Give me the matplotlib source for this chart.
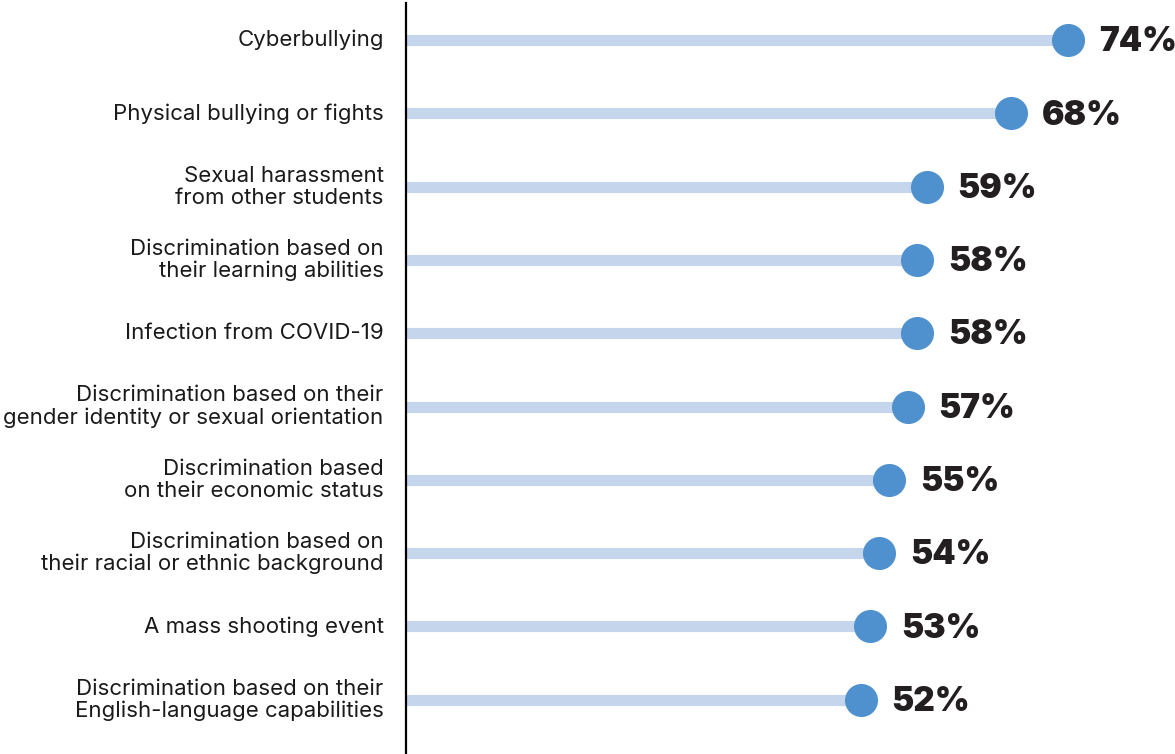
import matplotlib

matplotlib.use("Agg")
import matplotlib.pyplot as plt

categories = [
    "Cyberbullying",
    "Physical bullying or fights",
    "Sexual harassment\nfrom other students",
    "Discrimination based on\ntheir learning abilities",
    "Infection from COVID-19",
    "Discrimination based on their\ngender identity or sexual orientation",
    "Discrimination based\non their economic status",
    "Discrimination based on\ntheir racial or ethnic background",
    "A mass shooting event",
    "Discrimination based on their\nEnglish-language capabilities",
]
values = [74, 68, 59, 58, 58, 57, 55, 54, 53, 52]

STEM = "#c5d5ec"
DOT = "#4f90cf"
TEXT = "#1a1a1a"

W, H = 1175, 754
fig = plt.figure(figsize=(W / 100, H / 100), dpi=100)
ax = fig.add_axes([406 / W, 0, (W - 406) / W, (H - 3) / H])

x0, x1 = 3.7, 85.4
ax.set_xlim(x0, x1)
ax.set_ylim(9.74, -0.505)

ys = list(range(len(categories)))
ax.hlines(ys, x0, values, color=STEM, linewidth=8, zorder=1)
ax.scatter(values, ys, s=23.8 ** 2, color=DOT, zorder=3, linewidths=0)

for y, v, lab in zip(ys, values, categories):
    ax.text(v + 3.3, y + 0.03, f"{v}%", va="center", ha="left", fontsize=24,
            fontweight="black", family="Inter", color="#231f20", clip_on=False)
    ax.text(-0.029, y, lab, transform=ax.get_yaxis_transform(), va="center",
            ha="right", fontsize=16, family="Inter", color=TEXT,
            linespacing=1.12)

for side in ["top", "right", "bottom"]:
    ax.spines[side].set_visible(False)
ax.spines["left"].set_linewidth(1.6)
ax.spines["left"].set_color("black")
ax.set_xticks([])
ax.set_yticks([])
ax.patch.set_alpha(0)

fig.savefig("out.png", dpi=100)
